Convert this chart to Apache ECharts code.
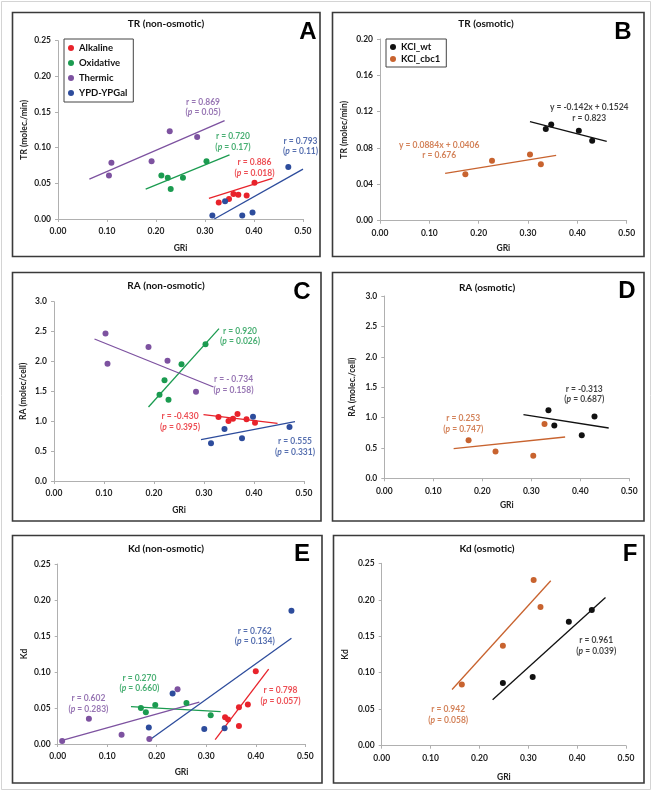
<!DOCTYPE html>
<html><head><meta charset="utf-8">
<script src="https://cdn.jsdelivr.net/npm/echarts@6/dist/echarts.min.js"></script>
<style>html,body{margin:0;padding:0;background:#fff}#c{width:653px;height:792px}</style>
</head><body><div id="c"></div>
<script>
// ---------- DATA ----------
// Panel A: TR (non-osmotic)
const trAlkX = [0.328,0.349,0.358,0.368,0.385,0.401];
const trAlkY = [0.023,0.028,0.035,0.034,0.033,0.051];
const trOxX  = [0.211,0.224,0.230,0.255,0.303];
const trOxY  = [0.061,0.058,0.042,0.058,0.081];
const trThX  = [0.104,0.109,0.191,0.228,0.284];
const trThY  = [0.061,0.079,0.081,0.123,0.115];
const trYpX  = [0.315,0.341,0.376,0.397,0.470];
const trYpY  = [0.005,0.025,0.005,0.009,0.073];
const trAlkFit = [[0.308,0.029],[0.4375,0.057]];
const trOxFit  = [[0.179,0.042],[0.350,0.090]];
const trThFit  = [[0.064,0.056],[0.340,0.138]];
const trYpFit  = [[0.319,0.000],[0.500,0.070]];
// Panel B: TR (osmotic)
const trWtX  = [0.336,0.347,0.403,0.430];
const trWtY  = [0.101,0.106,0.099,0.088];
const trCbX  = [0.173,0.227,0.304,0.326];
const trCbY  = [0.051,0.066,0.073,0.062];
const trWtFit = [[0.304,0.109],[0.4595,0.0873]];
const trCbFit = [[0.132,0.052],[0.357,0.072]];
// Panel C: RA (non-osmotic)
const raAlkX = [0.329,0.349,0.358,0.367,0.385,0.402];
const raAlkY = [1.071,1.004,1.043,1.121,1.032,0.976];
const raOxX  = [0.211,0.221,0.229,0.255,0.303];
const raOxY  = [1.444,1.684,1.361,1.952,2.287];
const raThX  = [0.103,0.107,0.189,0.227,0.284];
const raThY  = [2.470,1.960,2.240,2.010,1.495];
const raYpX  = [0.314,0.341,0.376,0.398,0.471];
const raYpY  = [0.630,0.870,0.714,1.076,0.904];
const raAlkFit = [[0.299,1.110],[0.447,0.965]];
const raOxFit  = [[0.189,1.238],[0.330,2.549]];
const raThFit  = [[0.081,2.376],[0.319,1.573]];
const raYpFit  = [[0.294,0.692],[0.482,0.993]];
// Panel D: RA (osmotic)
const raWtX = [0.335,0.347,0.403,0.429];
const raWtY = [1.119,0.867,0.708,1.015];
const raCbX = [0.172,0.227,0.304,0.327];
const raCbY = [0.625,0.439,0.373,0.894];
const raWtFit = [[0.284,1.048],[0.458,0.828]];
const raCbFit = [[0.1415,0.488],[0.369,0.680]];
// Panel E: Kd (non-osmotic)
const kdAlkX = [0.338,0.344,0.366,0.366,0.384,0.400];
const kdAlkY = [0.037,0.034,0.051,0.025,0.055,0.101];
const kdOxX  = [0.168,0.178,0.197,0.260,0.309];
const kdOxY  = [0.050,0.044,0.054,0.057,0.040];
const kdThX  = [0.009,0.063,0.129,0.185,0.242];
const kdThY  = [0.004,0.035,0.013,0.007,0.076];
const kdYpX  = [0.184,0.232,0.296,0.337,0.472];
const kdYpY  = [0.023,0.070,0.021,0.022,0.185];
const kdAlkFit = [[0.318,0.006],[0.426,0.104]];
const kdOxFit  = [[0.148,0.052],[0.329,0.045]];
const kdThFit  = [[0.009,0.005],[0.286,0.058]];
const kdYpFit  = [[0.186,0.006],[0.472,0.147]];
// Panel F: Kd (osmotic)
const kdWtX = [0.248,0.309,0.383,0.430];
const kdWtY = [0.086,0.094,0.170,0.186];
const kdCbX = [0.164,0.248,0.311,0.325];
const kdCbY = [0.084,0.137,0.227,0.190];
const kdWtFit = [[0.227,0.063],[0.458,0.203]];
const kdCbFit = [[0.144,0.077],[0.346,0.226]];

// annotation texts
const annA = [['r = 0.869','0.05'],['r = 0.720','0.17'],['r = 0.886','0.018'],['r = 0.793','0.11']];
const annB = ['y = -0.142x + 0.1524\nr = 0.823','y = 0.0884x + 0.0406\nr = 0.676'];
const annC = [['r = 0.920','0.026'],['r = - 0.734','0.158'],['r = -0.430','0.395'],['r = 0.555','0.331']];
const annD = [['r = -0.313','0.687'],['r = 0.253','0.747']];
const annE = [['r = 0.762','0.134'],['r = 0.270','0.660'],['r = 0.602','0.283'],['r = 0.798','0.057']];
const annF = [['r = 0.961','0.039'],['r = 0.942','0.058']];

const titles = ['TR (non-osmotic)','TR (osmotic)','RA (non-osmotic)','RA (osmotic)','Kd (non-osmotic)','Kd (osmotic)'];
const letters = ['A','B','C','D','E','F'];
const yNames = ['TR (molec./min)','TR (molec/min)','RA (molec/cell)','RA (molec./cell)','Kd','Kd'];

// ---------- STYLE ----------
const C = {alk:'#e8232b', ox:'#1b9b50', th:'#7d52a0', yp:'#2d4c9c', wt:'#111111', cb:'#c8632f'};
const FONT = 'Lato, "Open Sans", sans-serif';

const grids = [
  {left:58, top:40.7, width:245, height:178.3},
  {left:380, top:39, width:246.7, height:181.7},
  {left:54, top:301.7, width:250, height:179.3},
  {left:384.3, top:296, width:245, height:182.3},
  {left:57.7, top:564, width:247.6, height:180},
  {left:381.7, top:563.3, width:244.3, height:182.4}
];
const yCfg = [
  {max:0.25, interval:0.05, dec:2, gap:29},
  {max:0.20, interval:0.04, dec:2, gap:31},
  {max:3.0, interval:0.5, dec:1, gap:26},
  {max:3.0, interval:0.5, dec:1, gap:28},
  {max:0.25, interval:0.05, dec:2, gap:29},
  {max:0.25, interval:0.05, dec:2, gap:32}
];
const xGaps = [25, 23.5, 24.7, 22.7, 24, 26.6];

const axisLine = {lineStyle:{color:'#b0b0b0', width:1}};
const axisTick = {show:true, length:3, lineStyle:{color:'#b0b0b0'}};
const lblStyle = {fontFamily:FONT, fontWeight:'bold', fontSize:8.5, color:'#222'};

const xAxis = grids.map((g,i)=>({
  type:'value', gridIndex:i, min:0, max:0.5, interval:0.1,
  axisLine:axisLine, axisTick:axisTick, splitLine:{show:false},
  axisLabel:Object.assign({margin:8, formatter:v=>v.toFixed(2)}, lblStyle),
  name:'GRi', nameLocation:'middle', nameGap:xGaps[i],
  nameTextStyle:{fontFamily:FONT, fontWeight:'bold', fontSize:8.5, color:'#222'}
}));
const yAxis = grids.map((g,i)=>({
  type:'value', gridIndex:i, min:0, max:yCfg[i].max, interval:yCfg[i].interval,
  axisLine:Object.assign({show:true}, axisLine), axisTick:axisTick, splitLine:{show:false},
  axisLabel:Object.assign({margin:7, formatter:v=>v.toFixed(yCfg[i].dec)}, lblStyle),
  name:yNames[i], nameLocation:'middle', nameGap:yCfg[i].gap, nameRotate:90,
  nameTextStyle:{fontFamily:FONT, fontWeight:'bold', fontSize:8.5, color:'#222'}
}));

const series = [];
function zip(xs, ys){ return xs.map((x,k)=>[x, ys[k]]); }
function pts(name, xs, ys, color, gi){
  series.push({type:'scatter', name:name, xAxisIndex:gi, yAxisIndex:gi, data:zip(xs,ys),
    symbolSize:6, itemStyle:{color:color, opacity:1}, z:3});
}
function fit(name, d, color, gi){
  series.push({type:'line', name:name, xAxisIndex:gi, yAxisIndex:gi, data:d, symbol:'none',
    lineStyle:{color:color, width:1.3}, z:2, silent:true});
}
function ann(pos, text, color, gi, plain){
  const f = plain ? text : '{n|'+text[0]+'}\n{n|(}{i|p}{n| = '+text[1]+')}';
  series.push({type:'scatter', xAxisIndex:gi, yAxisIndex:gi, data:[pos], symbolSize:1,
    itemStyle:{color:'rgba(0,0,0,0)'}, silent:true, z:4,
    label:{show:true, position:'inside', formatter:f, color:color, align:'center', verticalAlign:'middle',
      fontFamily:FONT, fontWeight:'bold', fontSize:8.5, lineHeight:10.5,
      rich:{n:{fontFamily:FONT, fontWeight:'bold', fontSize:8.5, color:color, lineHeight:10.5},
            i:{fontFamily:FONT, fontWeight:'bold', fontStyle:'italic', fontSize:8.5, color:color, lineHeight:10.5}}}});
}

// A
pts('Alkaline', trAlkX, trAlkY, C.alk, 0); pts('Oxidative', trOxX, trOxY, C.ox, 0);
pts('Thermic', trThX, trThY, C.th, 0); pts('YPD-YPGal', trYpX, trYpY, C.yp, 0);
fit('Alkaline', trAlkFit, C.alk, 0); fit('Oxidative', trOxFit, C.ox, 0);
fit('Thermic', trThFit, C.th, 0); fit('YPD-YPGal', trYpFit, C.yp, 0);
ann([0.296,0.157], annA[0], C.th, 0); ann([0.357,0.108], annA[1], C.ox, 0);
ann([0.401,0.072], annA[2], C.alk, 0); ann([0.495,0.102], annA[3], C.yp, 0);
// B
pts('KCl_wt', trWtX, trWtY, C.wt, 1); pts('KCl_cbc1', trCbX, trCbY, C.cb, 1);
fit('KCl_wt', trWtFit, C.wt, 1); fit('KCl_cbc1', trCbFit, C.cb, 1);
ann([0.424,0.119], annB[0], C.wt, 1, true); ann([0.120,0.0774], annB[1], C.cb, 1, true);
// C
pts('Alkaline', raAlkX, raAlkY, C.alk, 2); pts('Oxidative', raOxX, raOxY, C.ox, 2);
pts('Thermic', raThX, raThY, C.th, 2); pts('YPD-YPGal', raYpX, raYpY, C.yp, 2);
fit('Alkaline', raAlkFit, C.alk, 2); fit('Oxidative', raOxFit, C.ox, 2);
fit('Thermic', raThFit, C.th, 2); fit('YPD-YPGal', raYpFit, C.yp, 2);
ann([0.372,2.42], annC[0], C.ox, 2); ann([0.359,1.606], annC[1], C.th, 2);
ann([0.252,0.993], annC[2], C.alk, 2); ann([0.482,0.569], annC[3], C.yp, 2);
// D
pts('KCl_wt', raWtX, raWtY, C.wt, 3); pts('KCl_cbc1', raCbX, raCbY, C.cb, 3);
fit('KCl_wt', raWtFit, C.wt, 3); fit('KCl_cbc1', raCbFit, C.cb, 3);
ann([0.408,1.382], annD[0], C.wt, 3); ann([0.161,0.894], annD[1], C.cb, 3);
// E
pts('Alkaline', kdAlkX, kdAlkY, C.alk, 4); pts('Oxidative', kdOxX, kdOxY, C.ox, 4);
pts('Thermic', kdThX, kdThY, C.th, 4); pts('YPD-YPGal', kdYpX, kdYpY, C.yp, 4);
fit('Alkaline', kdAlkFit, C.alk, 4); fit('Oxidative', kdOxFit, C.ox, 4);
fit('Thermic', kdThFit, C.th, 4); fit('YPD-YPGal', kdYpFit, C.yp, 4);
ann([0.398,0.1495], annE[0], C.yp, 4); ann([0.165,0.0847], annE[1], C.ox, 4);
ann([0.062,0.0556], annE[2], C.th, 4); ann([0.450,0.0671], annE[3], C.alk, 4);
// F
pts('KCl_wt', kdWtX, kdWtY, C.wt, 5); pts('KCl_cbc1', kdCbX, kdCbY, C.cb, 5);
fit('KCl_wt', kdWtFit, C.wt, 5); fit('KCl_cbc1', kdCbFit, C.cb, 5);
ann([0.439,0.1367], annF[0], C.wt, 5); ann([0.136,0.0425], annF[1], C.cb, 5);

// panel frames, titles, letters
const boxes = [[12.5,12.5,307.5,244],[332.5,12.5,311.5,244],[12.5,272.5,308.5,248.5],[332.5,272.5,311.5,248.5],[12.5,535.5,309.5,247.5],[333.5,535.5,310.5,247.5]];
const titlePos = [[166,24],[486,24],[166,285.5],[487,288],[166,548.5],[487,549]];
const letterPos = [[308,32],[623,32],[302,292],[627,291],[302,554],[630,554]];
const graphic = [{type:'rect', shape:{x:1.5,y:1.5,width:649,height:788}, style:{fill:'none', stroke:'#d4d4d4', lineWidth:1}}];
boxes.forEach(b=>graphic.push({type:'rect', shape:{x:b[0],y:b[1],width:b[2],height:b[3]}, style:{fill:'none', stroke:'#3a3a3a', lineWidth:1.6}}));
titles.forEach((t,i)=>graphic.push({type:'text', x:titlePos[i][0], y:titlePos[i][1],
  style:{text:t, fill:'#111', font:'bold 10px '+FONT, textAlign:'center', textVerticalAlign:'middle'}}));
letters.forEach((t,i)=>graphic.push({type:'text', x:letterPos[i][0], y:letterPos[i][1],
  style:{text:t, fill:'#000', font:'bold 24px "Liberation Sans", Arial, sans-serif', textAlign:'center', textVerticalAlign:'middle'}}));

const legTxt = {fontFamily:FONT, fontWeight:'bold', fontSize:9.5, color:'#111'};
const option = {
  animation:false,
  backgroundColor:'#fff',
  grid:grids, xAxis:xAxis, yAxis:yAxis, series:series, graphic:graphic,
  legend:[
    {data:['Alkaline','Oxidative','Thermic','YPD-YPGal'], left:64, top:39, orient:'vertical',
     icon:'circle', itemWidth:6, itemHeight:6, itemGap:5, padding:[4,6,4,4],
     borderColor:'#444', borderWidth:1, textStyle:legTxt, selectedMode:false},
    {data:['KCl_wt','KCl_cbc1'], left:386, top:39, orient:'vertical',
     icon:'circle', itemWidth:6, itemHeight:6, itemGap:2, padding:[3,6,3,4],
     borderColor:'#444', borderWidth:1, textStyle:legTxt, selectedMode:false}
  ]
};
const chart = echarts.init(document.getElementById('c'), null, {renderer:'canvas'});
chart.setOption(option);
</script></body></html>
